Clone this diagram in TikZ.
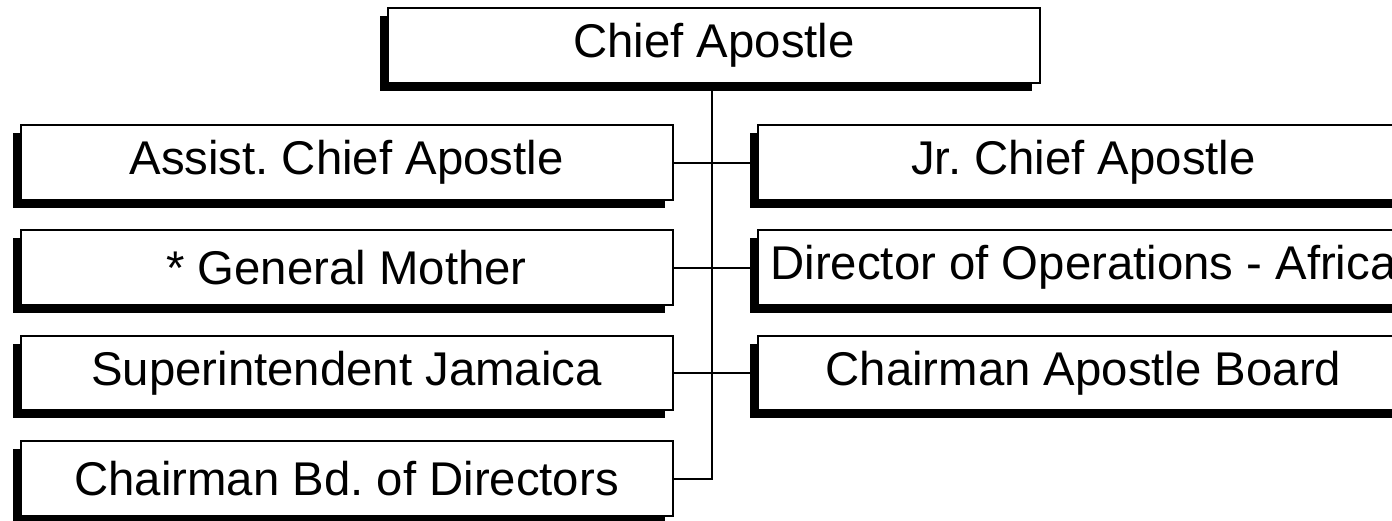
\documentclass[tikz,border=0pt]{standalone}
\usepackage{fontspec}
\setmainfont{Liberation Sans}
\usetikzlibrary{shadows}
\frenchspacing

\begin{document}
\begin{tikzpicture}[x=0.75pt,y=-0.75pt,line width=1.5pt,
	main node/.style={rectangle,draw,fill=white,inner sep=0pt,minimum width=489pt,minimum height=56pt,
		font=\fontsize{35.5}{40}\selectfont,general shadow={fill=black,shadow xshift=-6pt,shadow yshift=-6pt}}]

				\clip (0,0) rectangle (1392,521);

				\node[main node] (chief) at (714,45.5) {Chief Apostle};

				\foreach \place/\name/\lbl in {{(346.5,162.5)/assist/{Assist. Chief Apostle}}, {(346.5,267.5)/mother/{* General Mother}}, {(346.5,373)/jamaica/{Superintendent Jamaica}}, {(346.5,478.5)/directors/{Chairman Bd. of Directors}}, {(1083.5,162.5)/junior/{Jr. Chief Apostle}}, {(1083.5,267.5)/africa/{Director of Operations - Africa}}, {(1083.5,373)/board/{Chairman Apostle Board}}}
					\node[main node] (\name) at \place {\lbl};

				\coordinate (trunk) at (712,478.5);
				\draw (chief.south -| trunk) -- (trunk) -- (directors.east);

				\foreach \source/\dest in {assist/junior, mother/africa, jamaica/board}
					\draw (\source.east) -- (\dest.west);
			\end{tikzpicture}
\end{document}
